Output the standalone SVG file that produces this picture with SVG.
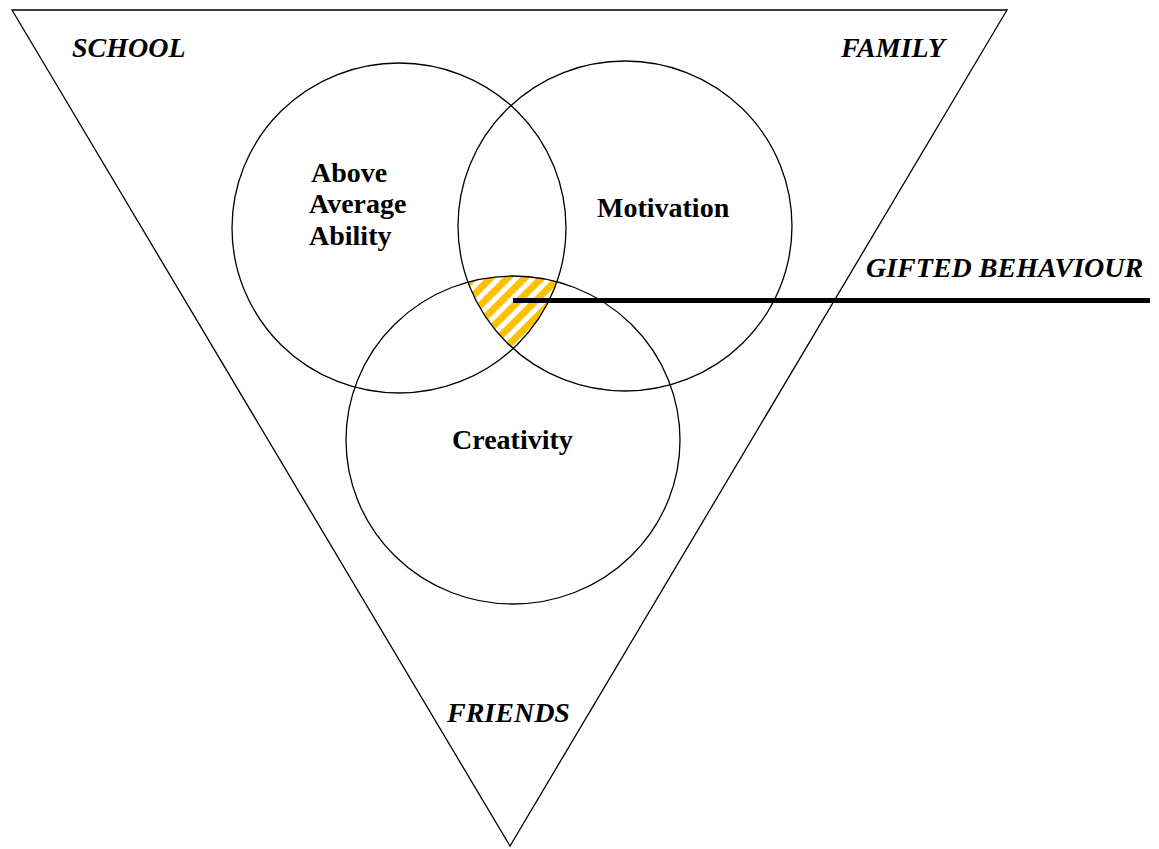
<svg xmlns="http://www.w3.org/2000/svg" width="1159" height="849" viewBox="0 0 1159 849">
<style>
.sh{fill:none;stroke:#000;stroke-width:1.3}
.lb{font-family:"Liberation Serif","Times New Roman",serif;font-weight:bold;font-size:28px;fill:#000}
.it{font-style:italic}
</style>
<defs>
<pattern id="hatch" patternUnits="userSpaceOnUse" width="12" height="12" patternTransform="rotate(-45)">
<rect width="12" height="12" fill="#fff"/>
<rect width="12" height="7" fill="#FFC000"/>
</pattern>
<clipPath id="cA"><ellipse cx="399" cy="228" rx="167" ry="165"/></clipPath>
<clipPath id="cB"><ellipse cx="625" cy="226" rx="167" ry="165"/></clipPath>
<clipPath id="cC"><ellipse cx="513" cy="440" rx="167" ry="164"/></clipPath>
</defs>
<rect width="1159" height="849" fill="#fff"/>
<g id="context">
<polygon class="sh" points="12,10 1007,10 510,846"/>
<text class="lb it" x="72" y="57">SCHOOL</text>
<text class="lb it" x="841" y="57">FAMILY</text>
<text class="lb it" x="447" y="722">FRIENDS</text>
</g>
<g id="overlap">
<g clip-path="url(#cA)"><g clip-path="url(#cB)"><rect x="440" y="260" width="140" height="100" fill="url(#hatch)" clip-path="url(#cC)"/></g></g>
</g>
<g id="ability">
<ellipse class="sh" cx="399" cy="228" rx="167" ry="165"/>
<text class="lb" x="311" y="182">Above</text>
<text class="lb" x="309" y="213">Average</text>
<text class="lb" x="309" y="245">Ability</text>
</g>
<g id="motivation">
<ellipse class="sh" cx="625" cy="226" rx="167" ry="165"/>
<text class="lb" x="597" y="217">Motivation</text>
</g>
<g id="creativity">
<ellipse class="sh" cx="513" cy="440" rx="167" ry="164"/>
<text class="lb" x="452" y="449">Creativity</text>
</g>
<g id="connectors">
<line x1="513" y1="300.5" x2="1150" y2="300.5" stroke="#000" stroke-width="5"/>
</g>
<g id="gifted">
<text class="lb it" x="866" y="277">GIFTED BEHAVIOUR</text>
</g>
</svg>
